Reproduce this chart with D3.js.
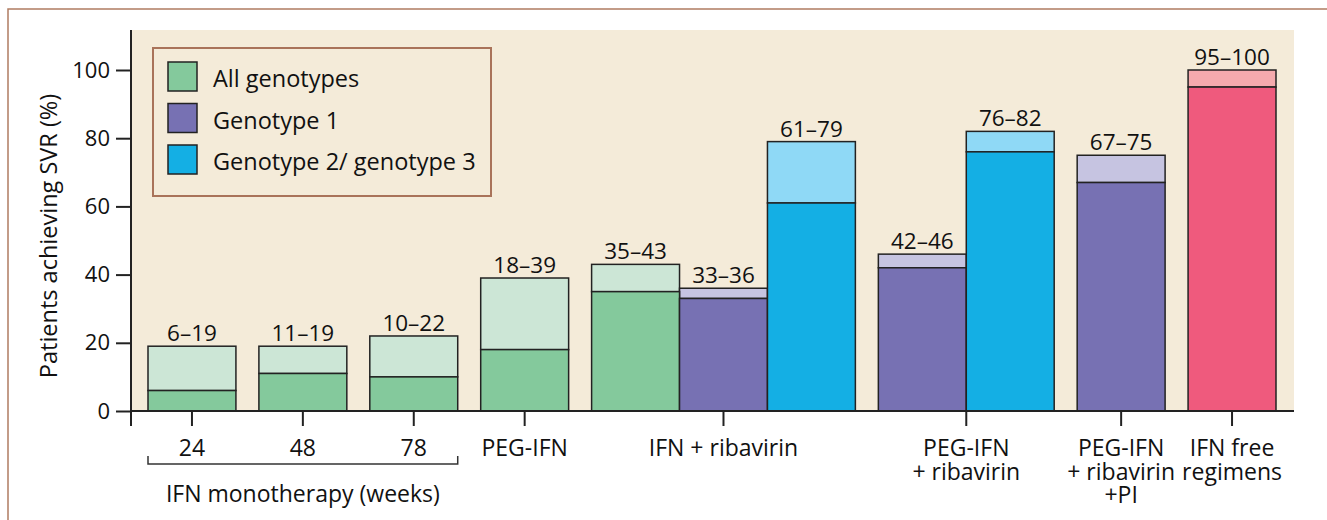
<!DOCTYPE html>
<html>
<head>
<meta charset="utf-8">
<script src="https://cdn.jsdelivr.net/npm/d3@7"></script>
<style>
  body { margin: 0; background: #fff; }
  text { font-family: "Open Sans", sans-serif; fill: #111; }
</style>
</head>
<body>
<div id="chart"></div>
<script>
// categories along the x axis (one tick per group)
const groupLabels = [["24"], ["48"], ["78"], ["PEG-IFN"], ["IFN + ribavirin"],
  ["PEG-IFN", "+ ribavirin"], ["PEG-IFN", "+ ribavirin", "+PI"], ["IFN free", "regimens"]];

// one entry per bar
const barGroup = [0, 1, 2, 3, 4, 4, 4, 5, 5, 6, 7];
const barType = ["all", "all", "all", "all", "all", "g1", "g23", "g1", "g23", "g1", "free"];
const lowVals = [6, 11, 10, 18, 35, 33, 61, 42, 76, 67, 95];
const highVals = [19, 19, 22, 39, 43, 36, 79, 46, 82, 75, 100];

const yTicks = [0, 20, 40, 60, 80, 100];
const legendNames = ["All genotypes", "Genotype 1", "Genotype 2/ genotype 3"];
const legendTypes = ["all", "g1", "g23"];

const darkColor = { all: "#84c99c", g1: "#7771b3", g23: "#14afe4", free: "#ef5a7d" };
const lightColor = { all: "#cce6d6", g1: "#c6c4e1", g23: "#8fd9f6", free: "#f5aaae" };

const W = 1327, H = 520;
const svg = d3.select("#chart").append("svg")
    .attr("width", W)
    .attr("height", H);

// outer frame (only top and left edges are visible)
svg.append("path")
    .attr("d", "M8,520 L8,9 L1327,9")
    .attr("fill", "none")
    .attr("stroke", "#b07c62")
    .attr("stroke-width", 1.5);

const axisX0 = 131, plotRight = 1294, plotTop = 30;

const y = d3.scaleLinear()
    .domain([0, 100])
    .range([411, 70]);

// bar positions: bars touch inside a group, small gap between groups
const gap = 23 / 88;
const slotPos = barGroup.map((g, i) => i + g * gap);
const x = d3.scaleLinear()
    .domain([0, barGroup.length + (groupLabels.length - 1) * gap])
    .range([148, 1276]);
const bw = x(1) - x(0);

// plot background
svg.append("rect")
    .attr("x", axisX0)
    .attr("y", plotTop)
    .attr("width", plotRight - axisX0)
    .attr("height", y(0) - plotTop)
    .attr("fill", "#f4ebd9");

// legend
const leg = svg.append("g");
leg.append("rect")
    .attr("x", 153).attr("y", 48)
    .attr("width", 338).attr("height", 148)
    .attr("fill", "#f4ebd9")
    .attr("stroke", "#a9735a")
    .attr("stroke-width", 2);
legendNames.forEach(function (name, i) {
    leg.append("rect")
        .attr("x", 168).attr("y", 62 + i * 41.5)
        .attr("width", 29).attr("height", 29)
        .attr("fill", darkColor[legendTypes[i]])
        .attr("stroke", "#222")
        .attr("stroke-width", 1.5);
    leg.append("text")
        .attr("x", 213).attr("y", 87 + i * 41.5)
        .attr("font-size", 23.5)
        .text(name);
});

// bars
const bars = barGroup.map((g, i) => ({ pos: slotPos[i], type: barType[i], lo: lowVals[i], hi: highVals[i] }));

svg.selectAll("rect.hi")
    .data(bars)
    .enter()
    .append("rect")
    .attr("class", "hi")
    .attr("x", d => x(d.pos))
    .attr("y", d => y(d.hi))
    .attr("width", bw)
    .attr("height", d => y(d.lo) - y(d.hi))
    .attr("fill", d => lightColor[d.type])
    .attr("stroke", "#222")
    .attr("stroke-width", 1.5);

svg.selectAll("rect.lo")
    .data(bars)
    .enter()
    .append("rect")
    .attr("class", "lo")
    .attr("x", d => x(d.pos))
    .attr("y", d => y(d.lo))
    .attr("width", bw)
    .attr("height", d => y(0) - y(d.lo))
    .attr("fill", d => darkColor[d.type])
    .attr("stroke", "#222")
    .attr("stroke-width", 1.5);

svg.selectAll("text.val")
    .data(bars)
    .enter()
    .append("text")
    .attr("class", "val")
    .attr("x", d => x(d.pos) + bw / 2)
    .attr("y", d => y(d.hi) - 5)
    .attr("text-anchor", "middle")
    .attr("font-size", 22.5)
    .text(d => d.lo + "\u2013" + d.hi);

// y axis
const yAxis = d3.axisLeft(y)
    .tickValues(yTicks)
    .tickSize(15)
    .tickPadding(6);
const gy = svg.append("g")
    .attr("transform", `translate(${axisX0},0)`)
    .call(yAxis);
gy.select(".domain").remove();
gy.selectAll(".tick line").attr("stroke", "#222").attr("stroke-width", 2);
gy.selectAll(".tick text")
    .attr("font-size", 22)
    .attr("font-family", "'Open Sans', sans-serif")
    .attr("fill", "#111");

svg.append("line")
    .attr("x1", axisX0).attr("x2", axisX0)
    .attr("y1", plotTop).attr("y2", y(0) + 15)
    .attr("stroke", "#222").attr("stroke-width", 2);

svg.append("text")
    .attr("transform", "translate(57,236) rotate(-90)")
    .attr("text-anchor", "middle")
    .attr("font-size", 23.5)
    .text("Patients achieving SVR (%)");

// x axis: baseline + group ticks
svg.append("line")
    .attr("x1", axisX0).attr("x2", plotRight)
    .attr("y1", y(0)).attr("y2", y(0))
    .attr("stroke", "#222").attr("stroke-width", 2);

const groupCenter = groupLabels.map(function (lab, g) {
    const ps = slotPos.filter((p, i) => barGroup[i] === g);
    return (x(d3.min(ps)) + x(d3.max(ps) + 1)) / 2;
});

const gx = svg.append("g");
groupLabels.forEach(function (lines, g) {
    gx.append("line")
        .attr("x1", groupCenter[g]).attr("x2", groupCenter[g])
        .attr("y1", y(0)).attr("y2", y(0) + 15)
        .attr("stroke", "#222").attr("stroke-width", 2);
    lines.forEach(function (ln, k) {
        gx.append("text")
            .attr("x", groupCenter[g])
            .attr("y", 456 + k * 23.5)
            .attr("text-anchor", "middle")
            .attr("font-size", 23)
            .text(ln);
    });
});

// bracket for IFN monotherapy
const bx0 = x(slotPos[0]), bx1 = x(slotPos[2] + 1);
svg.append("path")
    .attr("d", `M${bx0},456 L${bx0},464 L${bx1},464 L${bx1},456`)
    .attr("fill", "none")
    .attr("stroke", "#333")
    .attr("stroke-width", 1.5);
svg.append("text")
    .attr("x", (bx0 + bx1) / 2)
    .attr("y", 502)
    .attr("text-anchor", "middle")
    .attr("font-size", 23)
    .text("IFN monotherapy (weeks)");
</script>
</body>
</html>
